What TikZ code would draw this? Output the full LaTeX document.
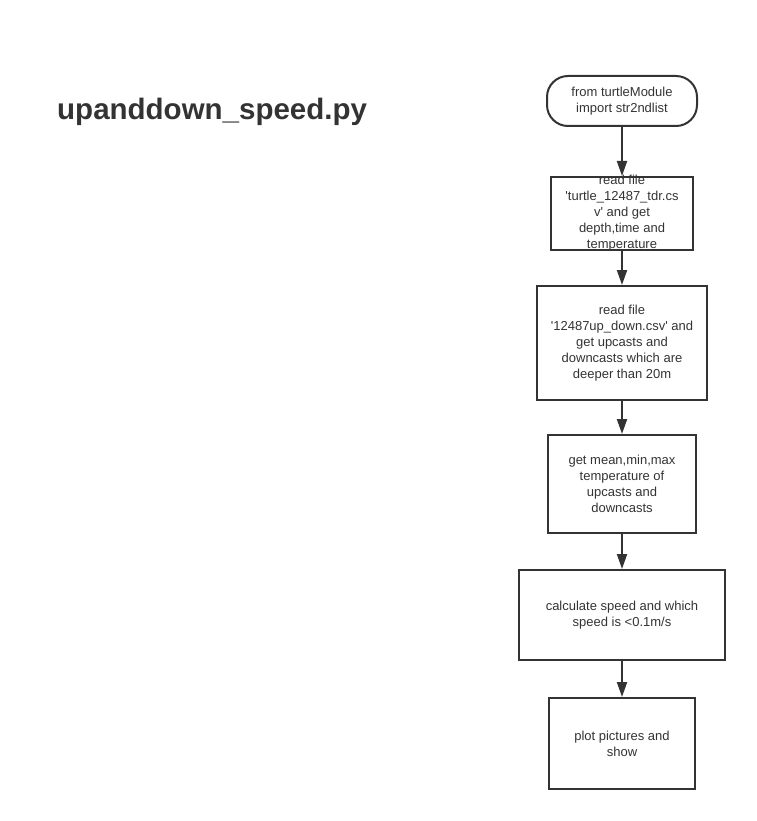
\documentclass[tikz,border=0pt]{standalone}
\usepackage{fontspec}
\setmainfont{Liberation Sans}
\usetikzlibrary{arrows.meta}
\definecolor{ink}{HTML}{333333}
\newcommand{\sq}{\textquotesingle}
\tikzset{
  x=1pt,y=-1pt,
  box/.style={draw=ink,line width=2pt,rectangle,inner sep=0pt,align=center,text=ink,
    font=\fontsize{13}{16}\selectfont},
  term/.style={box,rounded corners=21pt},
  flow/.style={draw=ink,line width=2pt,-{Triangle[length=15pt,width=10pt]}}
}
\begin{document}
\begin{tikzpicture}
\useasboundingbox (0,0) rectangle (756,821);
\node[font=\bfseries\fontsize{29.5}{32}\selectfont,text=ink,anchor=base west,inner sep=0pt] (title) at (57,120) {upanddown\_speed.py};
\node[term,minimum width=150pt,minimum height=50pt] (s) at (622,101) {from turtleModule\\import str2ndlist};
\node[box,minimum width=142pt,minimum height=73pt,
  label={[align=center,text=ink,font=\fontsize{13}{16}\selectfont]center:read file\\\sq turtle\_12487\_tdr.cs\\v\sq\ and get\\depth,time and\\temperature}] (b2) at (622,213.5) {};
\node[box,minimum width=170pt,minimum height=114pt] (b3) at (622,343) {read file\\\sq 12487up\_down.csv\sq\ and\\get upcasts and\\downcasts which are\\deeper than 20m};
\node[box,minimum width=148pt,minimum height=98pt] (b4) at (622,484) {get mean,min,max\\temperature of\\upcasts and\\downcasts};
\node[box,minimum width=206pt,minimum height=90pt] (b5) at (622,615) {calculate speed and which\\speed is <0.1m/s};
\node[box,minimum width=146pt,minimum height=91pt] (b6) at (622,743.5) {plot pictures and\\show};
\draw[flow] (s) -- (b2);
\draw[flow] (b2) -- (b3);
\draw[flow] (b3) -- (b4);
\draw[flow] (b4) -- (b5);
\draw[flow] (b5) -- (b6);
\end{tikzpicture}
\end{document}
